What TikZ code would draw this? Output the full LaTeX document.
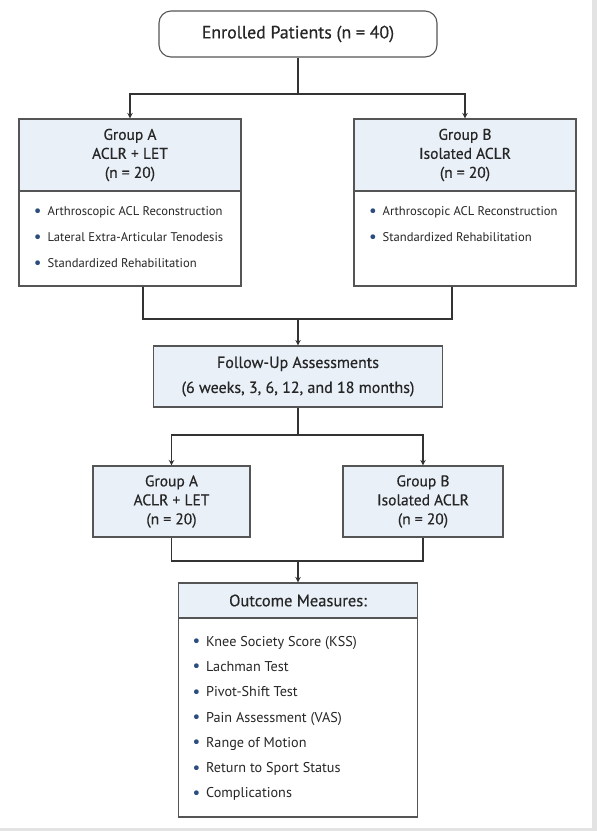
\documentclass[tikz,border=0pt]{standalone}
\usepackage{fontspec}
\setmainfont{PT Sans}
\newfontfamily\semib[FakeBold=0.45]{PT Sans}
\usetikzlibrary{arrows.meta}
\definecolor{hdrblue}{HTML}{E9F0F8}
\definecolor{edgegray}{HTML}{555555}
\definecolor{linegray}{HTML}{333333}
\definecolor{bulblue}{HTML}{2B4C7E}
\definecolor{stripgray}{HTML}{E3E3E3}
\newcommand{\bul}{{\color{bulblue}\fontsize{17}{0}\selectfont\raisebox{-0.05ex}{\textbullet}}\hspace{6pt}}
\begin{document}
\begin{tikzpicture}[x=1pt, y=-1pt,
  box/.style={draw=edgegray, line width=1.1pt, inner sep=0pt, text=black!85},
  hdr/.style={box, fill=hdrblue, align=center},
  conn/.style={draw=linegray, line width=1.1pt},
  arr/.style={conn, -{Stealth[length=5.5pt,width=5.5pt]}}]
% page with grey strip right and bottom
\fill[stripgray] (0,0) rectangle (597,831);
\fill[white] (0,0) rectangle (592,828);
% top
\node[box, rounded corners=12pt, minimum width=278pt, minimum height=46pt, font=\semib\fontsize{17.8}{19}\selectfont] (enrolled) at (298,34) {Enrolled Patients (n = 40)};
% treatment groups
\node[hdr, minimum width=222pt, minimum height=72pt, font=\semib\fontsize{15.5}{19}\selectfont] (gAh) at (130,155) {Group A\\ACLR + LET\\(n = 20)};
\node[box, minimum width=222pt, minimum height=95pt] (gAb) at (130,238.5) {\parbox[c][95pt][t]{222pt}{\leftskip=15pt\fontsize{12.6}{26}\selectfont\vspace*{16pt}%
\bul Arthroscopic ACL Reconstruction\par
\bul Lateral Extra-Articular Tenodesis\par
\bul Standardized Rehabilitation}};
\node[hdr, minimum width=222pt, minimum height=72pt, font=\semib\fontsize{15.5}{19}\selectfont] (gBh) at (465,155) {Group B\\Isolated ACLR\\(n = 20)};
\node[box, minimum width=222pt, minimum height=95pt] (gBb) at (465,238.5) {\parbox[c][95pt][t]{222pt}{\leftskip=15pt\fontsize{12.6}{26}\selectfont\vspace*{16pt}%
\bul Arthroscopic ACL Reconstruction\par
\bul Standardized Rehabilitation}};
% follow-up
\node[hdr, minimum width=289pt, minimum height=61pt, font=\semib\fontsize{16}{25}\selectfont] (follow) at (298,376.5) {Follow-Up Assessments\\(6 weeks, 3, 6, 12, and 18 months)};
\node[hdr, minimum width=157pt, minimum height=71pt, font=\semib\fontsize{15.5}{19}\selectfont] (sA) at (171.5,501.5) {Group A\\ACLR + LET\\(n = 20)};
\node[hdr, minimum width=160pt, minimum height=71pt, font=\semib\fontsize{15.5}{19}\selectfont] (sB) at (423,501.5) {Group B\\Isolated ACLR\\(n = 20)};
% outcomes
\node[hdr, minimum width=239pt, minimum height=35pt, font=\semib\fontsize{16.5}{18}\selectfont] (outH) at (298,600.5) {Outcome Measures:};
\node[box, minimum width=239pt, minimum height=199pt] (outB) at (298,717.5) {\parbox[c][199pt][t]{239pt}{\leftskip=14pt\fontsize{14.2}{25.3}\selectfont\vspace*{18pt}%
\bul Knee Society Score (KSS)\par
\bul Lachman Test\par
\bul Pivot-Shift Test\par
\bul Pain Assessment (VAS)\par
\bul Range of Motion\par
\bul Return to Sport Status\par
\bul Complications}};
% connectors
\coordinate (splitTop) at (298,94);
\coordinate (joinTop) at (298,319);
\coordinate (splitMid) at (298,435);
\coordinate (joinLow) at (298,561);
\draw[conn] (enrolled.south) -- (splitTop);
\draw[arr] (splitTop) -| (gAh.north);
\draw[arr] (splitTop) -| (gBh.north);
\draw[conn] ([xshift=13pt]gAb.south) |- (joinTop);
\draw[conn] ([xshift=-13pt]gBb.south) |- (joinTop);
\draw[arr] (joinTop) -- (follow.north);
\draw[conn] (follow.south) -- (splitMid);
\draw[arr] (splitMid) -| (sA.north);
\draw[arr] (splitMid) -| (sB.north);
\draw[conn] (sA.south) |- (joinLow);
\draw[conn] (sB.south) |- (joinLow);
\draw[arr] (joinLow) -- (outH.north);
\end{tikzpicture}
\end{document}
